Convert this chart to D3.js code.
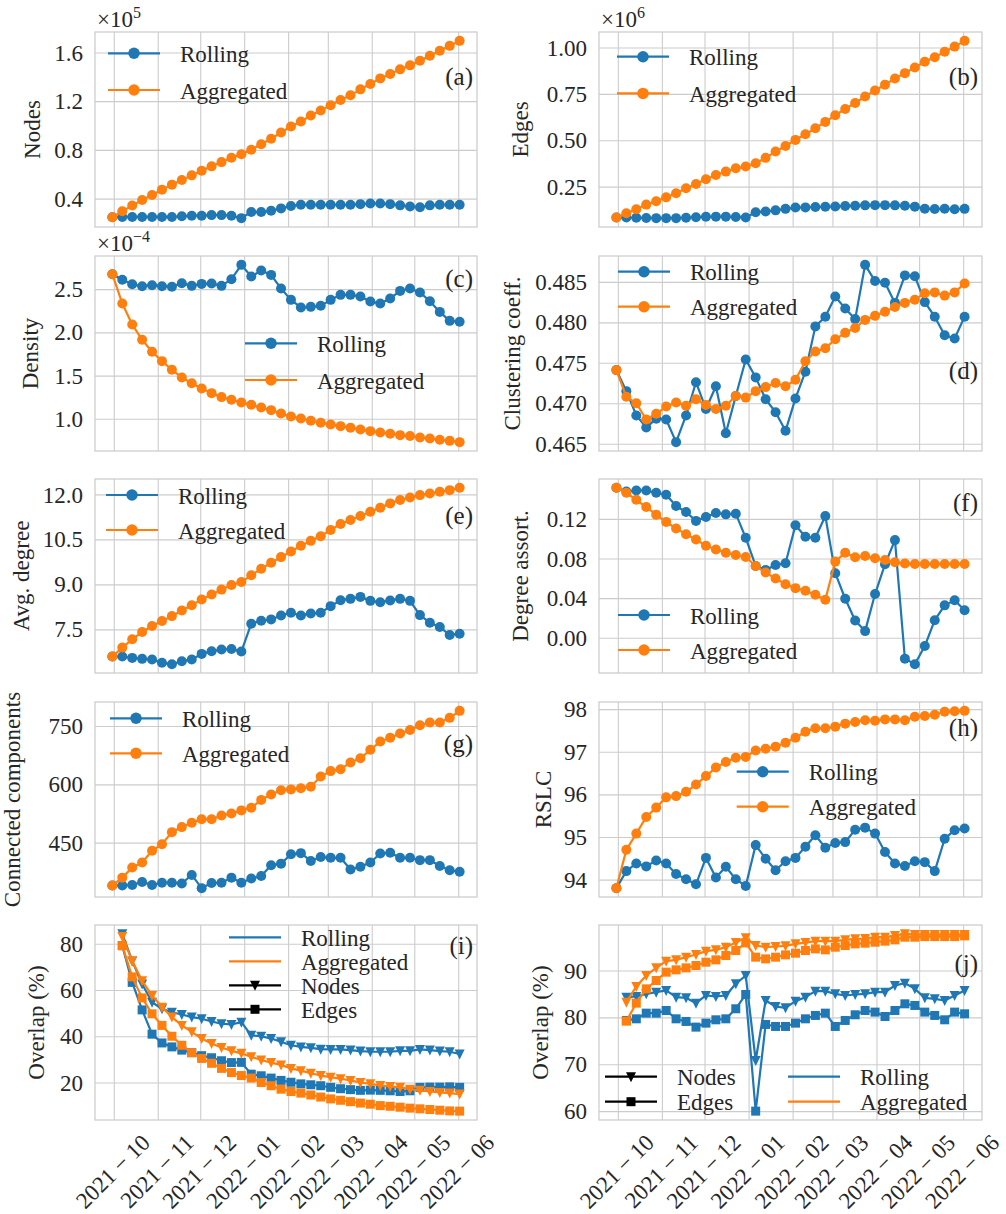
<!DOCTYPE html>
<html>
<head>
<meta charset="utf-8">
<script src="https://cdn.jsdelivr.net/npm/d3@7"></script>
<style>
  body { margin: 0; background: #fff; }
</style>
</head>
<body>
<svg id="chart" width="1006" height="1214"></svg>
<script>
// weekly snapshots
var dates = ["2021-09-30", "2021-10-07", "2021-10-14", "2021-10-21", "2021-10-28", "2021-11-04", "2021-11-11",
  "2021-11-18", "2021-11-25", "2021-12-02", "2021-12-09", "2021-12-16", "2021-12-23", "2021-12-30",
  "2022-01-06", "2022-01-13", "2022-01-20", "2022-01-27", "2022-02-03", "2022-02-10", "2022-02-17",
  "2022-02-24", "2022-03-03", "2022-03-10", "2022-03-17", "2022-03-24", "2022-03-31", "2022-04-07",
  "2022-04-14", "2022-04-21", "2022-04-28", "2022-05-05", "2022-05-12", "2022-05-19", "2022-05-26", "2022-06-02"];
var monthTicks = ["2021-10-01", "2021-11-01", "2021-12-01", "2022-01-01", "2022-02-01", "2022-03-01",
  "2022-04-01", "2022-05-01", "2022-06-01"];

// (a) nodes, x1e5
var nodesRolling = [0.247, 0.25, 0.25, 0.25, 0.25, 0.25, 0.25, 0.255, 0.26, 0.26, 0.265, 0.265, 0.26, 0.24,
  0.29, 0.29, 0.30, 0.32, 0.34, 0.35, 0.35, 0.35, 0.35, 0.35, 0.35, 0.355, 0.36, 0.36, 0.355, 0.345, 0.335,
  0.33, 0.345, 0.35, 0.35, 0.35];
var nodesAggregated = [0.247, 0.296, 0.343, 0.389, 0.430, 0.474, 0.515, 0.553, 0.591, 0.629, 0.665, 0.700,
  0.735, 0.765, 0.801, 0.847, 0.891, 0.943, 0.992, 1.033, 1.082, 1.123, 1.166, 1.210, 1.248, 1.297, 1.341,
  1.387, 1.423, 1.461, 1.494, 1.532, 1.573, 1.614, 1.654, 1.695];
// (b) edges, x1e6
var edgesRolling = [0.083, 0.083, 0.082, 0.081, 0.080, 0.080, 0.080, 0.082, 0.085, 0.087, 0.088, 0.088, 0.086,
  0.083, 0.112, 0.116, 0.122, 0.130, 0.137, 0.138, 0.140, 0.141, 0.143, 0.145, 0.147, 0.149, 0.150, 0.150,
  0.149, 0.147, 0.142, 0.131, 0.129, 0.131, 0.128, 0.130];
var edgesAggregated = [0.083, 0.106, 0.128, 0.153, 0.171, 0.192, 0.214, 0.241, 0.264, 0.290, 0.313, 0.331,
  0.349, 0.358, 0.376, 0.405, 0.439, 0.469, 0.502, 0.532, 0.565, 0.599, 0.635, 0.669, 0.701, 0.736, 0.768,
  0.800, 0.833, 0.862, 0.892, 0.923, 0.948, 0.977, 1.005, 1.036];
// (c) density, x1e-4
var densityRolling = [2.673, 2.608, 2.557, 2.534, 2.546, 2.534, 2.527, 2.569, 2.538, 2.561, 2.565, 2.538, 2.615,
  2.781, 2.646, 2.715, 2.665, 2.507, 2.376, 2.288, 2.295, 2.307, 2.376, 2.434, 2.434, 2.415, 2.357, 2.334,
  2.392, 2.480, 2.507, 2.461, 2.361, 2.237, 2.133, 2.122];
var densityAggregated = [2.673, 2.334, 2.091, 1.914, 1.775, 1.667, 1.567, 1.478, 1.412, 1.351, 1.297, 1.251,
  1.220, 1.189, 1.162, 1.131, 1.100, 1.062, 1.027, 1.004, 0.977, 0.954, 0.934, 0.915, 0.896, 0.877, 0.857,
  0.842, 0.827, 0.811, 0.800, 0.784, 0.773, 0.757, 0.745, 0.730];
// (d) clustering coefficient
var clusteringRolling = [0.4741, 0.4715, 0.4685, 0.4670, 0.4681, 0.4680, 0.4652, 0.4685, 0.4726, 0.4693, 0.4721,
  0.4663, 0.4709, 0.4754, 0.4732, 0.4705, 0.4689, 0.4666, 0.4706, 0.4739, 0.4795, 0.4807, 0.4832, 0.4817,
  0.4804, 0.4871, 0.4851, 0.4849, 0.4824, 0.4858, 0.4857, 0.4825, 0.4807, 0.4784, 0.4780, 0.4807];
var clusteringAggregated = [0.4741, 0.4708, 0.4700, 0.4680, 0.4687, 0.4696, 0.4701, 0.4697, 0.4705, 0.4698,
  0.4693, 0.4697, 0.4709, 0.4707, 0.4715, 0.4720, 0.4725, 0.4721, 0.4729, 0.4752, 0.4764, 0.4768, 0.4779,
  0.4787, 0.4793, 0.4803, 0.4808, 0.4813, 0.4819, 0.4824, 0.4828, 0.4836, 0.4837, 0.4833, 0.4837, 0.4848];
// (e) average degree
var avgDegreeRolling = [6.594, 6.594, 6.549, 6.516, 6.494, 6.384, 6.339, 6.439, 6.494, 6.682, 6.770, 6.826,
  6.848, 6.759, 7.688, 7.787, 7.832, 7.964, 8.053, 7.964, 8.031, 8.053, 8.274, 8.473, 8.517, 8.583, 8.451,
  8.406, 8.462, 8.517, 8.451, 7.975, 7.721, 7.577, 7.312, 7.356];
var avgDegreeAggregated = [6.594, 6.892, 7.168, 7.412, 7.611, 7.776, 7.942, 8.130, 8.307, 8.495, 8.661, 8.826,
  8.981, 9.081, 9.302, 9.523, 9.722, 9.910, 10.098, 10.286, 10.451, 10.606, 10.816, 11.015, 11.148, 11.280,
  11.424, 11.557, 11.701, 11.812, 11.900, 11.977, 12.032, 12.087, 12.143, 12.220];
// (f) degree assortativity
var assortRolling = [0.1514, 0.1477, 0.1487, 0.1487, 0.1464, 0.1444, 0.1330, 0.1270, 0.1180, 0.1220, 0.1260,
  0.1246, 0.1253, 0.1009, 0.0725, 0.0685, 0.0735, 0.0752, 0.1136, 0.1019, 0.1009, 0.1230, 0.0652, 0.0394,
  0.0174, 0.0067, 0.0441, 0.0742, 0.0986, -0.0211, -0.0267, -0.0084, 0.0177, 0.0327, 0.0378, 0.0277];
var assortAggregated = [0.1514, 0.1464, 0.1393, 0.1320, 0.1243, 0.1170, 0.1103, 0.1046, 0.0992, 0.0929, 0.0892,
  0.0859, 0.0835, 0.0815, 0.0725, 0.0658, 0.0598, 0.0541, 0.0501, 0.0475, 0.0434, 0.0384, 0.0769, 0.0859,
  0.0812, 0.0825, 0.0802, 0.0785, 0.0762, 0.0750, 0.0745, 0.0745, 0.0745, 0.0745, 0.0745, 0.0745];
// (g) connected components
var componentsRolling = [340, 340, 341, 349, 341, 347, 347, 345, 367, 333, 346, 347, 360, 347, 358, 364, 392,
  396, 420, 423, 403, 413, 411, 411, 381, 388, 399, 422, 424, 411, 411, 405, 405, 390, 379, 375];
var componentsAggregated = [340, 360, 386, 399, 429, 446, 477, 490, 501, 510, 510, 520, 525, 533, 540, 560, 574,
  585, 587, 590, 594, 620, 634, 639, 656, 667, 689, 710, 720, 731, 740, 752, 759, 759, 771, 789];
// (h) RSLC
var rslcRolling = [93.80, 94.20, 94.38, 94.31, 94.45, 94.38, 94.13, 94.01, 93.89, 94.51, 94.05, 94.30, 94.01,
  93.85, 94.81, 94.49, 94.22, 94.43, 94.51, 94.77, 95.04, 94.75, 94.86, 94.88, 95.17, 95.22, 95.08, 94.65,
  94.38, 94.32, 94.43, 94.41, 94.20, 94.96, 95.16, 95.20];
var rslcAggregated = [93.80, 94.70, 95.08, 95.47, 95.69, 95.93, 95.96, 96.06, 96.23, 96.43, 96.63, 96.76, 96.86,
  96.88, 97.03, 97.07, 97.12, 97.21, 97.33, 97.47, 97.55, 97.55, 97.59, 97.66, 97.70, 97.74, 97.73, 97.76,
  97.76, 97.74, 97.82, 97.84, 97.87, 97.94, 97.95, 97.96];
// (i) overlap with first snapshot (from 2nd week)
var overlapFirstNodesRolling = [84.3, 72.6, 62.6, 54.7, 51.9, 50.4, 49.4, 48.3, 47.6, 46.4, 45.4, 45.1, 46.1,
  40.4, 40.0, 39.0, 37.6, 36.1, 35.4, 35.0, 34.4, 34.3, 34.3, 34.0, 33.6, 33.3, 33.3, 33.3, 33.7, 33.7, 34.3,
  34.0, 33.6, 33.3, 32.3];
var overlapFirstEdgesRolling = [79.2, 63.3, 51.4, 40.9, 37.1, 35.4, 34.0, 32.9, 31.6, 30.7, 29.4, 28.6, 28.7,
  23.6, 22.9, 21.9, 20.9, 20.1, 19.4, 19.0, 18.6, 17.9, 17.3, 16.9, 16.6, 16.7, 16.6, 16.4, 16.1, 16.4, 17.9,
  18.0, 18.0, 18.1, 17.9];
var overlapFirstNodesAggregated = [83.2, 72.6, 64.0, 57.6, 52.6, 48.3, 44.7, 41.9, 39.0, 36.9, 35.1, 33.7, 32.6,
  31.1, 29.7, 28.6, 27.6, 26.1, 25.1, 24.0, 23.0, 22.3, 21.6, 20.9, 20.0, 19.4, 18.7, 18.3, 17.9, 17.1, 16.6,
  16.1, 15.7, 15.4, 15.0];
var overlapFirstEdgesAggregated = [79.2, 65.7, 56.6, 49.7, 44.7, 40.0, 36.1, 32.9, 30.4, 28.3, 26.1, 24.3, 23.0,
  21.9, 20.0, 18.6, 17.1, 16.1, 15.4, 14.6, 13.7, 12.9, 12.3, 11.7, 11.1, 10.6, 10.0, 9.7, 9.3, 8.9, 8.6, 8.3,
  8.0, 7.7, 7.6];
// (j) overlap with previous snapshot
var overlapPrevNodesRolling = [84.31, 84.46, 85.02, 85.38, 85.74, 84.31, 84.17, 83.03, 84.67, 84.46, 84.67,
  87.16, 88.93, 70.8, 83.60, 82.32, 82.04, 83.46, 84.31, 85.59, 85.59, 85.02, 84.67, 84.88, 85.02, 85.38,
  85.38, 86.80, 87.30, 86.09, 84.17, 83.96, 83.60, 84.67, 85.74];
var overlapPrevEdgesRolling = [79.34, 79.69, 80.90, 80.90, 81.47, 79.69, 79.13, 77.92, 78.77, 79.48, 79.69,
  81.83, 84.88, 60.0, 78.49, 78.06, 78.06, 78.77, 79.69, 80.41, 80.90, 78.06, 79.34, 80.55, 81.47, 81.12,
  80.19, 81.47, 82.89, 82.54, 81.12, 80.41, 79.48, 81.12, 80.76];
var overlapPrevNodesAggregated = [83.25, 86.58, 88.93, 90.56, 91.98, 92.27, 92.84, 93.40, 94.12, 94.40, 94.97,
  95.96, 96.96, 95.32, 94.97, 95.11, 95.25, 95.68, 95.96, 96.25, 96.25, 96.25, 96.53, 96.75, 96.82, 97.10,
  97.10, 97.46, 97.81, 97.67, 97.67, 97.67, 97.67, 97.67, 97.67];
var overlapPrevEdgesAggregated = [79.19, 83.03, 86.08, 87.86, 89.64, 90.14, 90.56, 91.06, 91.77, 92.27, 93.19,
  94.26, 95.89, 92.84, 92.48, 92.84, 93.33, 93.69, 94.26, 94.61, 94.40, 94.97, 95.32, 95.68, 95.82, 96.03,
  96.25, 96.53, 97.10, 97.10, 97.24, 97.24, 97.24, 97.24, 97.38];

var blue = "#1f77b4", orange = "#ff7f0e", ink = "#262626", gridColor = "#cccccc";
var fontSize = 23;

// pick the first serif face the browser really has (canvas width test)
function pickFont(list) {
  var ctx = document.createElement("canvas").getContext("2d");
  var sample = "Aggregated 0.485 Rolling";
  for (var i = 0; i < list.length; i++) {
    var ok = ["monospace", "sans-serif"].some(function (base) {
      ctx.font = "40px " + base;
      var w0 = ctx.measureText(sample).width;
      ctx.font = "40px '" + list[i] + "', " + base;
      return ctx.measureText(sample).width !== w0;
    });
    if (ok) return "'" + list[i] + "', serif";
  }
  return "serif";
}
var serifFont = pickFont(["Liberation Serif", "DejaVu Serif", "Noto Serif", "Times New Roman", "FreeSerif"]);

var parseDate = d3.utcParse("%Y-%m-%d");
var weeks = dates.map(parseDate);
var overlapWeeks = weeks.slice(1);
var tickDates = monthTicks.map(parseDate);

// layout
var cols = [{ left: 95, right: 477 }, { left: 599, right: 982 }];
var rows = [{ top: 32, bottom: 227 }, { top: 256, bottom: 451 }, { top: 479, bottom: 673 },
  { top: 702, bottom: 897 }, { top: 925, bottom: 1120 }];

function pair(r, a, mk) {
  return [{ x: weeks, y: r, color: blue, marker: mk || "circle" }, { x: weeks, y: a, color: orange, marker: mk || "circle" }];
}
var legendRA = [{ label: "Rolling", color: blue, marker: "circle" }, { label: "Aggregated", color: orange, marker: "circle" }];

var panels = [
  { tag: "(a)", col: 0, row: 0, ylabel: "Nodes", labelX: 40, ticks: [0.4, 0.8, 1.2, 1.6], fmt: ".1f", mult: ["5"],
    series: pair(nodesRolling, nodesAggregated), legend: [{ dx: 13, dy: 21.3, gap: 36.7, items: legendRA }], tagDy: 53 },
  { tag: "(b)", col: 1, row: 0, ylabel: "Edges", labelX: 528, ticks: [0.25, 0.5, 0.75, 1.0], fmt: ".2f", mult: ["6"],
    series: pair(edgesRolling, edgesAggregated), legend: [{ dx: 18, dy: 24.7, gap: 36.7, items: legendRA }], tagDy: 53 },
  { tag: "(c)", col: 0, row: 1, ylabel: "Density", labelX: 38, ticks: [1.0, 1.5, 2.0, 2.5], fmt: ".1f", mult: ["\u22124"],
    series: pair(densityRolling, densityAggregated), legend: [{ dx: 150, dy: 87.3, gap: 36.7, items: legendRA }], tagDy: 31 },
  { tag: "(d)", col: 1, row: 1, ylabel: "Clustering coeff.", labelX: 520, ticks: [0.465, 0.47, 0.475, 0.48, 0.485], fmt: ".3f",
    series: pair(clusteringRolling, clusteringAggregated), legend: [{ dx: 19, dy: 15.7, gap: 35, items: legendRA }], tagDy: 123 },
  { tag: "(e)", col: 0, row: 2, ylabel: "Avg. degree", labelX: 29, ticks: [7.5, 9.0, 10.5, 12.0], fmt: ".1f",
    series: pair(avgDegreeRolling, avgDegreeAggregated), legend: [{ dx: 11, dy: 16, gap: 35, items: legendRA }], tagDy: 45 },
  { tag: "(f)", col: 1, row: 2, ylabel: "Degree assort.", labelX: 528, ticks: [0, 0.04, 0.08, 0.12], fmt: ".2f",
    series: pair(assortRolling, assortAggregated), legend: [{ dx: 19, dy: 136, gap: 35, items: legendRA }], tagDy: 32 },
  { tag: "(g)", col: 0, row: 3, ylabel: "Connected components", labelX: 20, ticks: [450, 600, 750], fmt: "d",
    series: pair(componentsRolling, componentsAggregated), legend: [{ dx: 15, dy: 16.3, gap: 35, items: legendRA }], tagDy: 50 },
  { tag: "(h)", col: 1, row: 3, ylabel: "RSLC", labelX: 551, ticks: [94, 95, 96, 97, 98], fmt: "d",
    series: pair(rslcRolling, rslcAggregated), legend: [{ dx: 137.7, dy: 69.7, gap: 35, items: legendRA }], tagDy: 34 },
  { tag: "(i)", col: 0, row: 4, ylabel: "Overlap (%)", labelX: 44, ticks: [20, 40, 60, 80], fmt: "d", dates: true,
    series: [
      { x: overlapWeeks, y: overlapFirstNodesRolling, color: blue, marker: "tri" },
      { x: overlapWeeks, y: overlapFirstEdgesRolling, color: blue, marker: "square" },
      { x: overlapWeeks, y: overlapFirstNodesAggregated, color: orange, marker: "tri" },
      { x: overlapWeeks, y: overlapFirstEdgesAggregated, color: orange, marker: "square" }],
    legend: [{ dx: 134, dy: 12.3, gap: 24, items: [
      { label: "Rolling", color: blue }, { label: "Aggregated", color: orange },
      { label: "Nodes", color: "#000", marker: "tri" }, { label: "Edges", color: "#000", marker: "square" }] }],
    tagDy: 29 },
  { tag: "(j)", col: 1, row: 4, ylabel: "Overlap (%)", labelX: 548, ticks: [60, 70, 80, 90], fmt: "d", dates: true,
    series: [
      { x: overlapWeeks, y: overlapPrevNodesRolling, color: blue, marker: "tri" },
      { x: overlapWeeks, y: overlapPrevEdgesRolling, color: blue, marker: "square" },
      { x: overlapWeeks, y: overlapPrevNodesAggregated, color: orange, marker: "tri" },
      { x: overlapWeeks, y: overlapPrevEdgesAggregated, color: orange, marker: "square" }],
    legend: [
      { dx: 6, dy: 151.7, gap: 25, items: [{ label: "Nodes", color: "#000", marker: "tri" }, { label: "Edges", color: "#000", marker: "square" }] },
      { dx: 189, dy: 151.7, gap: 25, items: [{ label: "Rolling", color: blue }, { label: "Aggregated", color: orange }] }],
    tagDy: 47 }
];

function markerPath(type) {
  if (type === "tri") return "M-5,-4.5L5,-4.5L0,5.5Z";
  if (type === "square") return "M-4.5,-4.5h9v9h-9Z";
  return d3.symbol(d3.symbolCircle, Math.PI * 25)();
}

var svg = d3.select("#chart").style("font-family", serifFont);
svg.append("rect").attr("width", 1006).attr("height", 1214).attr("fill", "#fff");

var xExt = d3.extent(weeks);
var xPad = (xExt[1] - xExt[0]) * 0.05;
var xDomain = [new Date(+xExt[0] - xPad), new Date(+xExt[1] + xPad)];
var fmtYear = d3.utcFormat("%Y");
var fmtMon = d3.utcFormat("%m");

panels.forEach(function (p) {
  var c = cols[p.col], r = rows[p.row];
  var w = c.right - c.left, h = r.bottom - r.top;

  var x = d3.scaleUtc().domain(xDomain).range([c.left, c.right]);
  var ext = d3.extent(d3.merge(p.series.map(function (s) { return s.y; })));
  var pad = (ext[1] - ext[0]) * 0.05;
  var y = d3.scaleLinear().domain([ext[0] - pad, ext[1] + pad]).range([r.bottom, r.top]);

  var g = svg.append("g");

  // y axis + horizontal grid
  var yAxis = g.append("g")
    .attr("transform", "translate(" + c.left + ",0)")
    .call(d3.axisLeft(y).tickValues(p.ticks).tickFormat(d3.format(p.fmt)).tickSize(-w).tickPadding(12));
  yAxis.attr("font-family", null).attr("font-size", null);
  yAxis.select(".domain").remove();
  yAxis.selectAll("line").attr("stroke", gridColor).attr("stroke-width", 1.1);
  yAxis.selectAll("text").attr("font-size", fontSize).attr("fill", ink).attr("dy", "0.33em");

  // x axis + vertical grid
  var xAxis = g.append("g")
    .attr("transform", "translate(0," + r.bottom + ")")
    .call(d3.axisBottom(x).tickValues(tickDates).tickSize(-h)
      .tickFormat(function (d) { return p.dates ? fmtYear(d) + " \u2212 " + fmtMon(d) : ""; }));
  xAxis.attr("font-family", null).attr("font-size", null);
  xAxis.select(".domain").remove();
  xAxis.selectAll("line").attr("stroke", gridColor).attr("stroke-width", 1.1);
  xAxis.selectAll("text").attr("font-size", fontSize).attr("fill", ink)
    .attr("text-anchor", "end").attr("x", 0).attr("y", 0).attr("dy", 0)
    .attr("transform", "translate(37,24) rotate(-45)");

  // frame
  g.append("rect").attr("x", c.left).attr("y", r.top).attr("width", w).attr("height", h)
    .attr("fill", "none").attr("stroke", gridColor).attr("stroke-width", 1.25);

  // y label
  g.append("text")
    .attr("transform", "translate(" + p.labelX + "," + (r.top + h / 2) + ") rotate(-90)")
    .attr("text-anchor", "middle").attr("font-size", fontSize).attr("fill", ink).text(p.ylabel);

  // offset multiplier
  if (p.mult) {
    var m = g.append("text").attr("x", c.left + 2).attr("y", r.top - 5.5).attr("font-size", fontSize).attr("fill", ink);
    m.append("tspan").text("\u00d710");
    m.append("tspan").attr("dy", -9).attr("font-size", 16).text(p.mult[0]);
  }

  // series
  var line = d3.line().x(function (d) { return x(d[0]); }).y(function (d) { return y(d[1]); });
  p.series.forEach(function (s) {
    var pts = s.y.map(function (v, i) { return [s.x[i], v]; });
    g.append("path").datum(pts).attr("d", line)
      .attr("fill", "none").attr("stroke", s.color).attr("stroke-width", 2.2).attr("stroke-linejoin", "round");
    g.append("g").selectAll("path").data(pts).enter().append("path")
      .attr("transform", function (d) { return "translate(" + x(d[0]) + "," + y(d[1]) + ")"; })
      .attr("d", markerPath(s.marker)).attr("fill", s.color);
  });

  // legends
  p.legend.forEach(function (lg) {
    lg.items.forEach(function (it, i) {
      var lx = c.left + lg.dx, ly = r.top + lg.dy + i * lg.gap;
      g.append("line").attr("x1", lx).attr("x2", lx + 52).attr("y1", ly).attr("y2", ly)
        .attr("stroke", it.color).attr("stroke-width", 2.2);
      if (it.marker) {
        g.append("path").attr("transform", "translate(" + (lx + 26) + "," + ly + ")")
          .attr("d", it.marker === "circle" ? d3.symbol(d3.symbolCircle, Math.PI * 33)() : markerPath(it.marker))
          .attr("fill", it.color);
      }
      g.append("text").attr("x", lx + 72).attr("y", ly + 8.5).attr("font-size", fontSize).attr("fill", ink).text(it.label);
    });
  });

  // panel tag
  g.append("text").attr("x", c.right - 4).attr("y", r.top + p.tagDy)
    .attr("text-anchor", "end").attr("font-size", 25).attr("fill", ink).text(p.tag);
});
</script>
</body>
</html>
